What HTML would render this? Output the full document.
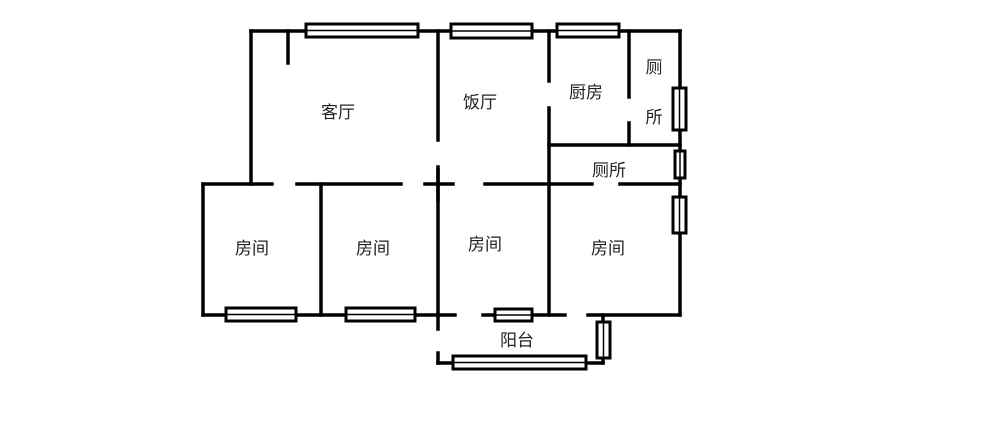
<!DOCTYPE html>
<html><head><meta charset="utf-8"><style>
html,body{margin:0;padding:0;background:#fff;}
svg{display:block;}
text{font-family:"Liberation Sans","Noto Sans CJK SC",sans-serif;font-size:17px;fill:#222;}
</style></head><body>
<svg width="1000" height="444" viewBox="0 0 1000 444" xmlns="http://www.w3.org/2000/svg">
<g stroke="#000" stroke-width="3.5" fill="none" stroke-linecap="square">
<line x1="251" y1="31" x2="680" y2="31"/>
<line x1="251" y1="31" x2="251" y2="184"/>
<line x1="288" y1="31" x2="288" y2="63"/>
<line x1="438" y1="31" x2="438" y2="140"/>
<line x1="438" y1="167" x2="438" y2="200"/>
<line x1="549" y1="31" x2="549" y2="81"/>
<line x1="549" y1="108" x2="549" y2="315"/>
<line x1="629" y1="31" x2="629" y2="97"/>
<line x1="629" y1="123" x2="629" y2="145"/>
<line x1="680" y1="31" x2="680" y2="315"/>
<line x1="549" y1="145" x2="680" y2="145"/>
<line x1="203" y1="184" x2="272" y2="184"/>
<line x1="297" y1="184" x2="401" y2="184"/>
<line x1="425" y1="184" x2="453" y2="184"/>
<line x1="485" y1="184" x2="592" y2="184"/>
<line x1="620" y1="184" x2="680" y2="184"/>
<line x1="203" y1="184" x2="203" y2="315"/>
<line x1="321" y1="184" x2="321" y2="315"/>
<line x1="438" y1="170" x2="438" y2="329"/>
<line x1="203" y1="315" x2="455" y2="315"/>
<line x1="483" y1="315" x2="565" y2="315"/>
<line x1="588" y1="315" x2="680" y2="315"/>
<line x1="438" y1="353" x2="438" y2="363"/>
<line x1="438" y1="363" x2="603" y2="363"/>
<line x1="603" y1="315" x2="603" y2="363"/>
</g>
<g stroke="#000" stroke-width="3" fill="#fff">
<rect x="306" y="24" width="112" height="13"/>
<rect x="451" y="24" width="81" height="14"/>
<rect x="557" y="24" width="62" height="13"/>
<rect x="673" y="88" width="13" height="42"/>
<rect x="675" y="151" width="10" height="27"/>
<rect x="673" y="197" width="13" height="36"/>
<rect x="226" y="308" width="70" height="13"/>
<rect x="346" y="308" width="69" height="13"/>
<rect x="495" y="309" width="37" height="12"/>
<rect x="453" y="356" width="133" height="13"/>
<rect x="597" y="322" width="13" height="36"/>
</g>
<g stroke="#000" stroke-width="1.5">
<line x1="306" y1="30.5" x2="418" y2="30.5"/>
<line x1="451" y1="31" x2="532" y2="31"/>
<line x1="557" y1="30.5" x2="619" y2="30.5"/>
<line x1="679.5" y1="88" x2="679.5" y2="130"/>
<line x1="680" y1="151" x2="680" y2="178"/>
<line x1="679.5" y1="197" x2="679.5" y2="233"/>
<line x1="226" y1="314.5" x2="296" y2="314.5"/>
<line x1="346" y1="314.5" x2="415" y2="314.5"/>
<line x1="495" y1="315" x2="532" y2="315"/>
<line x1="453" y1="362.5" x2="586" y2="362.5"/>
<line x1="603.5" y1="322" x2="603.5" y2="358"/>
</g>
<text x="338" y="118" text-anchor="middle">客厅</text>
<text x="480" y="108" text-anchor="middle">饭厅</text>
<text x="586" y="98" text-anchor="middle">厨房</text>
<text x="654" y="73" text-anchor="middle">厕</text>
<text x="654" y="123" text-anchor="middle">所</text>
<text x="609" y="176" text-anchor="middle">厕所</text>
<text x="252" y="254" text-anchor="middle">房间</text>
<text x="373" y="254" text-anchor="middle">房间</text>
<text x="485" y="250" text-anchor="middle">房间</text>
<text x="608" y="254" text-anchor="middle">房间</text>
<text x="517" y="346" text-anchor="middle">阳台</text>
</svg>
</body></html>
